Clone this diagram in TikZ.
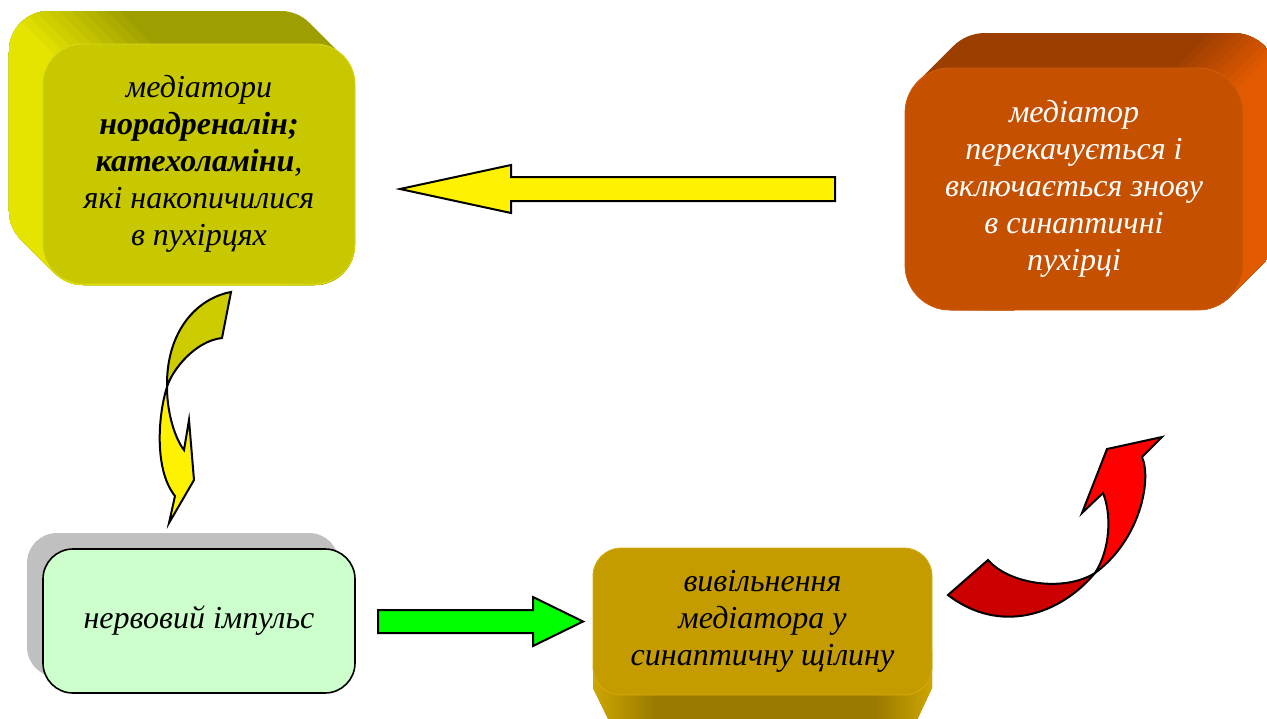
\documentclass[tikz,border=0pt]{standalone}
\usepackage{fontspec}
\setmainfont{Liberation Serif}
\definecolor{olFront}{RGB}{200,200,0}
\definecolor{olTop}{RGB}{158,158,0}
\definecolor{olSide}{RGB}{228,228,0}
\definecolor{olEdge}{RGB}{216,216,30}
\definecolor{orFront}{RGB}{196,80,0}
\definecolor{orTop}{RGB}{156,62,0}
\definecolor{orSide}{RGB}{226,90,0}
\definecolor{orEdge}{RGB}{212,94,12}
\definecolor{gdFront}{RGB}{196,156,0}
\definecolor{gdBottom}{RGB}{154,122,0}
\definecolor{gdSide}{RGB}{208,168,0}
\definecolor{gdEdge}{RGB}{214,172,12}
\definecolor{mint}{RGB}{204,255,204}
\definecolor{shadowgray}{RGB}{192,192,192}
\definecolor{olArrow}{RGB}{204,204,0}
\definecolor{darkred}{RGB}{204,0,0}
\begin{document}
\begin{tikzpicture}[x=1pt,y=-1pt,
  txt/.style={font=\fontsize{32}{37}\selectfont\itshape, align=center},
  face/.style={rectangle, txt},
  blockarrow/.style={draw=black, line width=2pt, line join=miter, miter limit=10}]
\useasboundingbox (0,0) rectangle (1267,718);

% --- top-left box: extruded sides, bright on the left, dark on top
\begin{scope}
  \clip (9,51) arc[start angle=180, end angle=270, radius=40]
    -- (281,11) arc[start angle=270, end angle=315, radius=40]
    -- (343.3,56.7) arc[start angle=315, end angle=360, radius=40]
    -- (355,245) arc[start angle=0, end angle=90, radius=40]
    -- (83,285) arc[start angle=90, end angle=135, radius=40]
    -- (20.7,239.3) arc[start angle=135, end angle=180, radius=40] -- cycle;
  \fill[olTop] (0,0) rectangle (400,300);
  \foreach \i in {0,...,10}{
    \pgfmathsetmacro\c{120-12*\i}
    \pgfmathtruncatemacro\m{10*\i}
    \fill[olSide!\m!olTop] (-600,{-600-\c}) -- (1600,{1600-\c}) -- (-600,{1600-\c}) -- cycle;
  }
\end{scope}
\node[face, fill=olFront, draw=olEdge, line width=0.8pt, rounded corners=40pt,
      minimum width=312pt, minimum height=240pt] (store) at (199,164)
  {медіатори\\\textbf{норадреналін;}\\\textbf{катехоламіни},\\які накопичилися\\в пухірцях};

% --- top-right box: extruded sides, dark on top, bright on the right
\begin{scope}
  \clip (905,265) -- (905,113) arc[start angle=180, end angle=225, radius=45]
    -- (953.2,46.2) arc[start angle=225, end angle=270, radius=45]
    -- (1233,33) arc[start angle=270, end angle=360, radius=45]
    -- (1278,230) arc[start angle=0, end angle=45, radius=45]
    -- (1229.8,296.8) arc[start angle=45, end angle=90, radius=45]
    -- (950,310) arc[start angle=90, end angle=180, radius=45] -- cycle;
  \fill[orTop] (880,0) rectangle (1300,330);
  \foreach \i in {0,...,10}{
    \pgfmathsetmacro\c{1235+9*\i}
    \pgfmathtruncatemacro\m{10*\i}
    \fill[orSide!\m!orTop] ({\c+600},-600) -- ({\c+2000},-600) -- ({\c+2000},1600) -- ({\c-1600},1600) -- cycle;
  }
\end{scope}
\node[face, text=white, fill=orFront, draw=orEdge, line width=0.8pt, rounded corners=45pt,
      minimum width=338pt, minimum height=242pt] (reuptake) at (1074,189)
  {медіатор\\перекачується і\\включається знову\\в синаптичні\\пухірці};

% --- bottom-left box with flat shadow
\fill[shadowgray, rounded corners=30pt] (27,533) rectangle (339,677);
\node[face, fill=mint, draw=black, line width=1.6pt, rounded corners=30pt,
      minimum width=312pt, minimum height=144pt] (impulse) at (199,621)
  {нервовий імпульс};

% --- bottom-middle box: extruded underside
\begin{scope}
  \clip (593,650) -- (593,688) -- (616,735) -- (910,735) -- (932,688) -- (932,650) -- cycle;
  \fill[gdBottom] (580,640) rectangle (950,740);
  \shade[left color=gdSide, right color=gdBottom] (590,640) rectangle (655,740);
  \shade[left color=gdBottom, right color=gdSide] (875,640) rectangle (935,740);
\end{scope}
\node[face, fill=gdFront, draw=gdEdge, line width=0.8pt, rounded corners=28pt,
      minimum width=339pt, minimum height=147pt] (release) at (762.5,621.5)
  {вивільнення\\медіатора у\\синаптичну щілину};

% --- straight block arrows
\draw[blockarrow, fill=yellow]
  (835,177) -- (511,177) -- (511,165) -- (400,189) -- (511,213) -- (511,201) -- (835,201) -- cycle;
\draw[blockarrow, fill=green]
  (378,610) -- (533,610) -- (533,597) -- (583,621.5) -- (533,646) -- (533,633) -- (378,633) -- cycle;

% --- twisted curved arrow from the top-left box down to the impulse box
\draw[blockarrow, fill=olArrow]
  (231,292) .. controls (198,298) and (166,330) .. (167,387)
  .. controls (172,370) and (195,341) .. (222,338) -- cycle;
\draw[blockarrow, fill=yellow]
  (167,387) .. controls (158,415) and (154,470) .. (175,496)
  -- (169,523) -- (194,480) -- (189,420) -- (184,450)
  .. controls (176,440) and (167,415) .. (167,387) -- cycle;

% --- twisted curved arrow from the release box up to the top-right box
\draw[blockarrow, fill=darkred]
  (948,595) -- (988,560) .. controls (1010,585) and (1065,592) .. (1095,573)
  .. controls (1060,615) and (1000,635) .. (948,595) -- cycle;
\draw[blockarrow, fill=red]
  (1095,573) .. controls (1110,550) and (1112,515) .. (1103,493)
  -- (1082,513) -- (1107,449) -- (1162,437) -- (1142,457)
  .. controls (1152,480) and (1140,540) .. (1095,573) -- cycle;
\end{tikzpicture}
\end{document}
